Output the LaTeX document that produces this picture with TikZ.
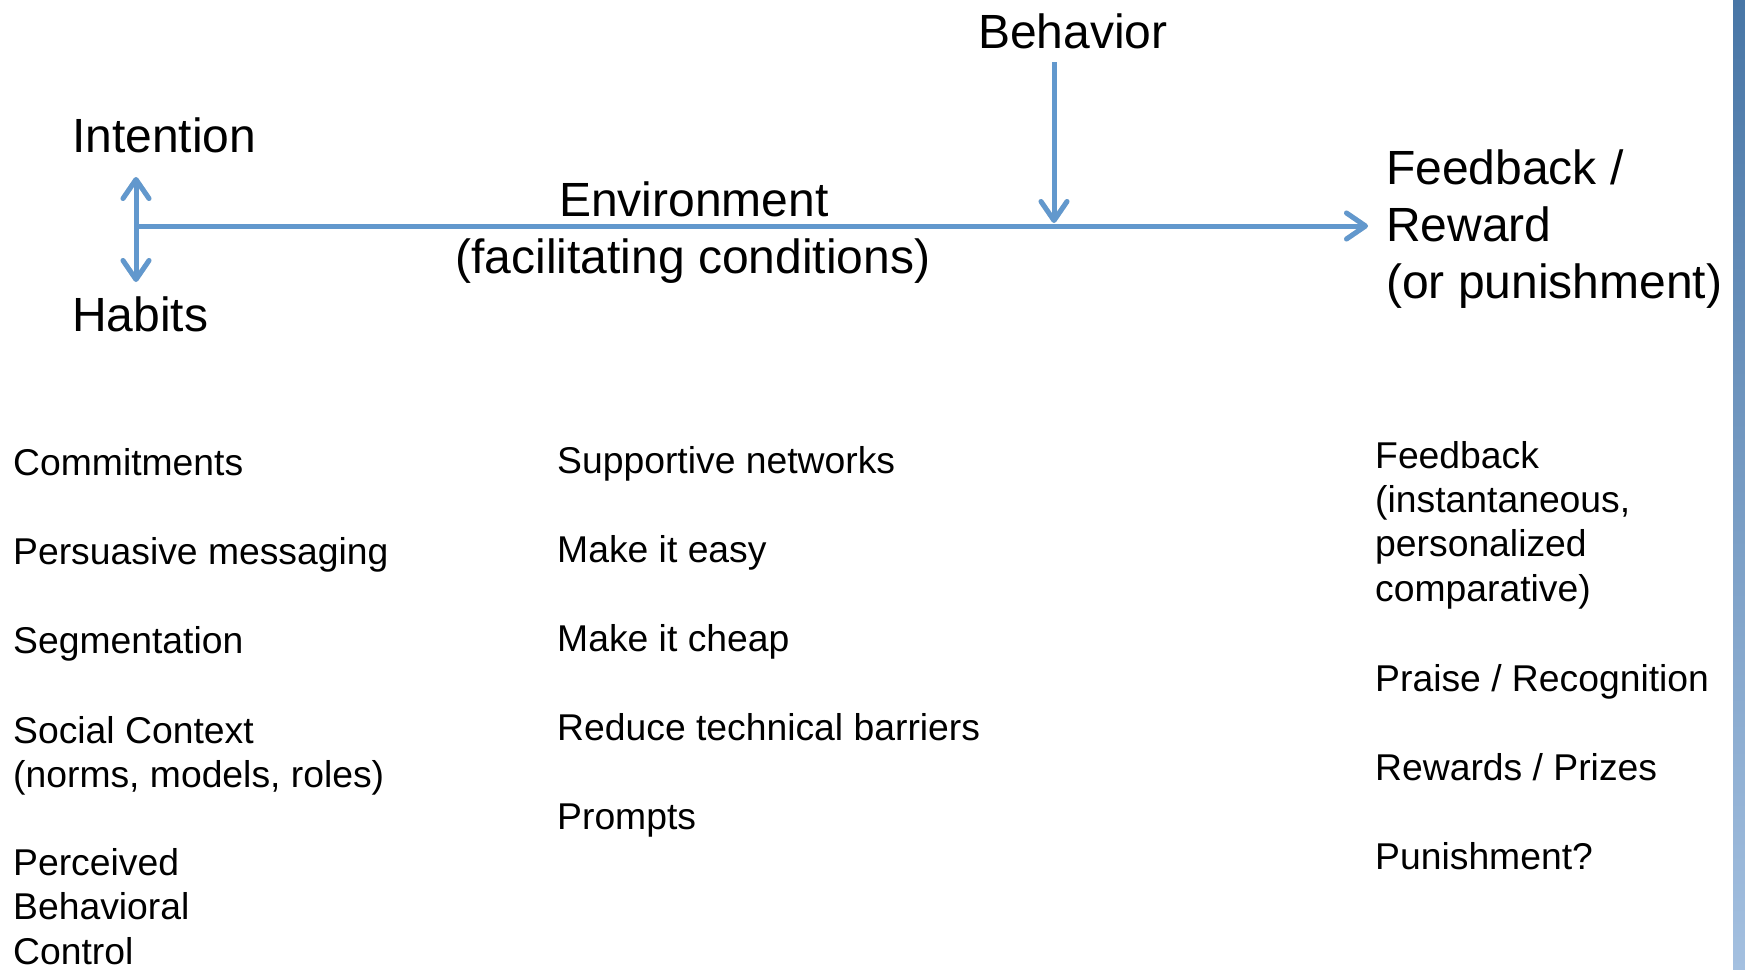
\documentclass[tikz,border=0pt]{standalone}
\usepackage{fontspec}
\setmainfont{Liberation Sans}
\usetikzlibrary{arrows.meta}
\definecolor{linkblue}{RGB}{98,152,205}
\definecolor{bartop}{RGB}{72,118,166}
\definecolor{barbottom}{RGB}{164,192,224}

\begin{document}
% Multi-line nodes are placed by the baseline of their last line.
\begin{tikzpicture}[x=1pt,y=-1pt,
  >={Straight Barb[length=19pt,width=26pt,line cap=round,line join=round]},
  bigtext/.style={anchor=base west, inner sep=0pt, font=\fontsize{48}{57}\selectfont, align=left},
  bigmid/.style={anchor=base, inner sep=0pt, font=\fontsize{48}{57}\selectfont},
  smalltext/.style={anchor=base west, inner sep=0pt, font=\fontsize{37.3}{44.4}\selectfont, align=left},
  link/.style={draw=linkblue, line width=5pt},
  linkshadow/.style={draw=black!13, line width=5pt},
]
\useasboundingbox (0,0) rectangle (1745,969);

% side bar
\shade[top color=bartop, bottom color=barbottom] (1733,0) rectangle (1745,969);

% headings
\node[bigtext] (intention) at (72,152) {Intention};
\node[bigtext] (habits) at (72,331) {Habits};
\node[bigtext] (behavior) at (978,48) {Behavior};
\node[bigmid] (env) at (694,216) {Environment};
\node[bigmid] (envsub) at (693,273) {(facilitating conditions)};
\node[bigtext] (feedback) at (1386,298) {Feedback /\\Reward\\(or punishment)};

% connector end points
\coordinate (hub) at (136,226);
\coordinate (itip) at (136,177);
\coordinate (htip) at (136,282);
\coordinate (btop) at (1054,62);
\coordinate (btip) at (1054,223);
\coordinate (ftip) at (1368,226);

% soft shadows under the connectors
\begin{scope}[shift={(1.5,3)}]
  \draw[linkshadow, <->] (itip) -- (htip);
  \draw[linkshadow, ->] (hub) -- (ftip);
  \draw[linkshadow, ->] (btop) -- (btip);
\end{scope}

% connectors
\draw[link, <->] (itip) -- (htip);
\draw[link, ->] (hub) -- (ftip);
\draw[link, ->] (btop) -- (btip);

% left column
\node[smalltext] (commit) at (13,475) {Commitments};
\node[smalltext] (persuade) at (13,564) {Persuasive messaging};
\node[smalltext] (segment) at (13,653) {Segmentation};
\node[smalltext] (social) at (13,787.5) {Social Context\\(norms, models, roles)};
\node[smalltext] (pbc) at (13,964) {Perceived\\Behavioral\\Control};

% middle column
\node[smalltext] (support) at (557,473) {Supportive networks};
\node[smalltext] (easy) at (557,562) {Make it easy};
\node[smalltext] (cheap) at (557,651) {Make it cheap};
\node[smalltext] (barriers) at (557,740) {Reduce technical barriers};
\node[smalltext] (prompts) at (557,829) {Prompts};

% right column
\node[smalltext] (fb) at (1375,601.2) {Feedback\\(instantaneous,\\personalized\\comparative)};
\node[smalltext] (praise) at (1375,691) {Praise / Recognition};
\node[smalltext] (rewards) at (1375,780) {Rewards / Prizes};
\node[smalltext] (punish) at (1375,869) {Punishment?};
\end{tikzpicture}
\end{document}
